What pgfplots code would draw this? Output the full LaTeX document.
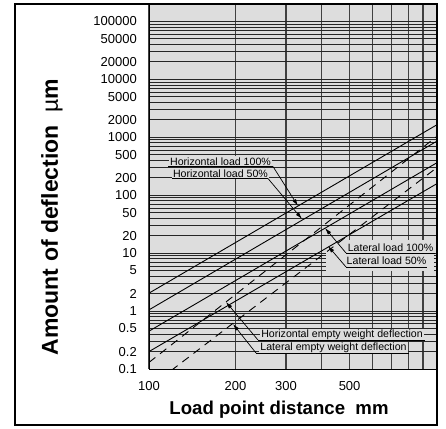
\documentclass[border=0pt]{standalone}
\usepackage{fontspec}
\setmainfont{Liberation Sans}
\usepackage{pgfplots}
\pgfplotsset{compat=1.18}
\usetikzlibrary{arrows.meta}
\definecolor{bg}{RGB}{221,221,221}
\begin{document}
\begin{tikzpicture}[x=1pt,y=1pt]
\path[use as bounding box] (-149,-59) rectangle (297,369);
\begin{axis}[
  at={(0,0)}, anchor=south west,
  scale only axis, width=287pt, height=365pt,
  xmode=log, ymode=log,
  xmin=100, xmax=1000, ymin=0.1, ymax=200000,
  axis background/.style={fill=bg},
  axis line style={black, line width=1pt},
  xtick={100,200,300,500},
  xticklabels={100,200,300,500},
  minor xtick={400,600,700,800,900},
  ytick={0.1,0.2,0.5,1,2,5,10,20,50,100,200,500,1000,2000,5000,10000,20000,50000,100000},
  yticklabels={0.1,0.2,0.5,1,2,5,10,20,50,100,200,500,1000,2000,5000,10000,20000,50000,100000},
  minor ytick={0.3,0.4,0.6,0.7,0.8,0.9,3,4,6,7,8,9,30,40,60,70,80,90,300,400,600,700,800,900,3000,4000,6000,7000,8000,9000,30000,40000,60000,70000,80000,90000},
  major tick length=0pt, minor tick length=0pt,
  grid=both,
  y grid style={black!85, line width=0.9pt},
  x grid style={black!75, line width=1.3pt},
  /pgf/number format/assume math mode=true,
  ticklabel style={font=\fontsize{13}{15}\selectfont},
  yticklabel style={anchor=east, inner sep=0pt, xshift=-12pt},
  xticklabel style={anchor=north, inner sep=0pt, yshift=-12pt},
  clip=true,
]
% mask behind the lateral load labels (grid is blank there in the original)
\fill[bg] (axis cs:413,4.9) rectangle (axis cs:985,16.7);
% Horizontal load 100%
\addplot[black, line width=0.9pt] coordinates {(100,2.04) (1000,1610)};
% Horizontal load 50%
\addplot[black, line width=0.9pt] coordinates {(100,1.05) (1000,840)};
% Lateral load 100%
\addplot[black, line width=0.9pt] coordinates {(100,0.45) (1000,356)};
% Lateral load 50%
\addplot[black, line width=0.9pt] coordinates {(100,0.20) (1000,155)};
% Horizontal empty weight deflection
\addplot[black, line width=0.9pt, dash pattern=on 8pt off 6pt] coordinates {(100,0.13) (1000,1010)};
% Lateral empty weight deflection
\addplot[black, line width=0.9pt, dash pattern=on 8pt off 6pt] coordinates {(100,0.048) (1000,292)};
\end{axis}
% annotation boxes
\tikzset{lab/.style={fill=bg, inner sep=1.5pt, font=\fontsize{10.6}{12}\selectfont},
         arr/.style={black, line width=0.7pt, -{Latex[length=7pt,width=4pt]}}}
\node[lab] at (71.5,207.5) {Horizontal load 100\%};
\draw[black, line width=0.7pt] (19,202.5) -- (124,202.5);
\draw[arr] (124,202.5) -- (149,163);
\node[lab] at (71.5,195.5) {Horizontal load 50\%};
\draw[black, line width=0.7pt] (23,190.5) -- (119,190.5);
\draw[arr] (119,190.5) -- (153,150);
\node[lab] at (241.5,121) {Lateral load 100\%};
\draw[black, line width=0.7pt] (197,116) -- (286,116);
\draw[arr] (197,116) -- (176,141);
\node[lab] at (237.5,108) {Lateral load 50\%};
\draw[black, line width=0.7pt] (197,102) -- (278,102);
\draw[arr] (197,102) -- (179,123);
\node[lab] at (193,34) {Horizontal empty weight deflection};
\draw[black, line width=0.7pt] (109,29) -- (276,29);
\draw[arr] (109,29) -- (77,67);
\node[lab] at (184.5,21) {Lateral empty weight deflection};
\draw[black, line width=0.7pt] (107,16) -- (260,16);
\draw[arr] (107,16) -- (84,45);
% axis labels
\node[font=\bfseries\fontsize{18.6}{21}\selectfont] at (130,-41) {Load point distance\ \ mm};
\node[rotate=90, font=\bfseries\fontsize{23}{25}\selectfont] at (-97,152) {Amount of deflection\ \ {\mdseries µ}m};
% outer frame
\draw[black, line width=1.1pt] (-134,-56) rectangle (288,365);
\end{tikzpicture}
\end{document}
